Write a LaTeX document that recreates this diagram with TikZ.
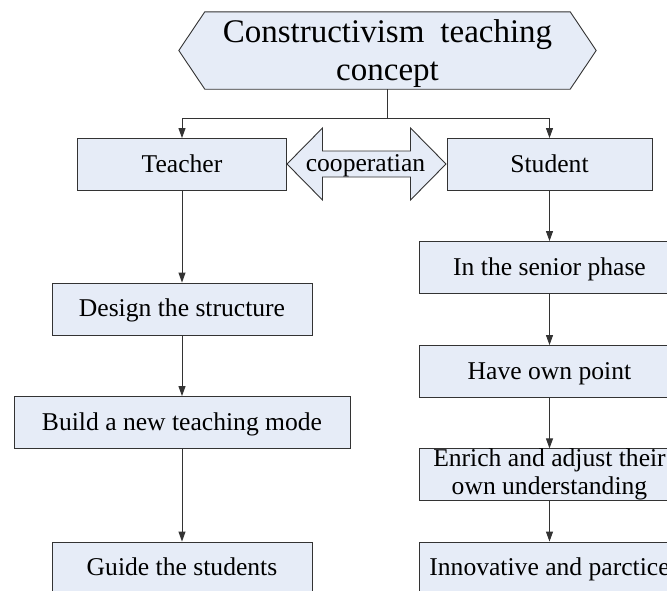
\documentclass[tikz,border=0pt]{standalone}
\usepackage{fontspec}
\setmainfont{Liberation Serif}
\usetikzlibrary{arrows.meta,backgrounds}
\definecolor{boxfill}{HTML}{E6ECF7}
\definecolor{linec}{HTML}{333333}
\begin{document}
\begin{tikzpicture}[x=1pt,y=-1pt,
  boxbase/.style={draw=linec,fill=boxfill,line width=0.9pt,inner sep=0pt,minimum height=52pt,font=\fontsize{25.6}{28}\selectfont},
  box/.style={boxbase,text height=17pt,text depth=2pt},
  arr/.style={draw=linec,line width=0.9pt,-{Triangle[length=10pt,width=7pt]}},
  plain/.style={draw=linec,line width=0.9pt}]
\useasboundingbox (0,0) rectangle (667,590);
\clip (0,0) rectangle (667,590);

% top hexagon
\node[minimum width=417pt,minimum height=77pt,inner sep=0pt] (top) at (387.5,50.5) {};
\node[font=\fontsize{33}{38}\selectfont,align=center,inner sep=0pt] (toptext) at (387.5,53.5) {Constructivism\hspace{16pt}teaching\\concept};

% boxes
\node[box,minimum width=209pt] (teacher) at (182,164.5) {Teacher};
\node[box,minimum width=205pt] (student) at (549.5,164.5) {Student};
\node[box,minimum width=260pt] (design) at (182,309) {Design the structure};
\node[box,minimum width=336pt] (build) at (182,422.5) {Build a new teaching mode};
\node[box,minimum width=260pt] (guide) at (182,568) {Guide the students};
\node[box,minimum width=260pt] (senior) at (549.5,267.5) {In the senior phase};
\node[box,minimum width=260pt] (own) at (549.5,371.5) {Have own point};
\node[boxbase,minimum width=260pt,minimum height=51pt,align=center] (enrich) at (549.5,474.5) {Enrich and adjust their\\own understanding};
\node[box,minimum width=260pt] (innov) at (549.5,568) {Innovative and parctice};

% cooperation double arrow
\node[font=\fontsize{25.6}{28}\selectfont,inner sep=0pt,text height=17pt,text depth=2pt] (coop) at (365.5,164) {cooperatian};

\begin{scope}[on background layer]
  \draw[plain,fill=boxfill] (top.west) -- ([xshift=26pt]top.north west) -- ([xshift=-26pt]top.north east)
     -- (top.east) -- ([xshift=-26pt]top.south east) -- ([xshift=26pt]top.south west) -- cycle;
  \draw[plain,fill=boxfill] (366.5,164) ++(-79.5,0) -- ++(35.5,-36) -- ++(0,23) -- ++(88,0) -- ++(0,-23)
     -- ++(35.5,36) -- ++(-35.5,36) -- ++(0,-23) -- ++(-88,0) -- ++(0,23) -- cycle;
\end{scope}

% connectors
\coordinate (j) at (387.5,118);
\draw[plain] (top.south) -- (j);
\draw[arr] (j) -| (teacher.north);
\draw[arr] (j) -| (student.north);
\draw[arr] (teacher.south) -- (design.north);
\draw[arr] (design.south) -- (build.north);
\draw[arr] (build.south) -- (guide.north);
\draw[arr] (student.south) -- (senior.north);
\draw[arr] (senior.south) -- (own.north);
\draw[arr] (own.south) -- (enrich.north);
\draw[arr] (enrich.south) -- (innov.north);
\end{tikzpicture}
\end{document}
